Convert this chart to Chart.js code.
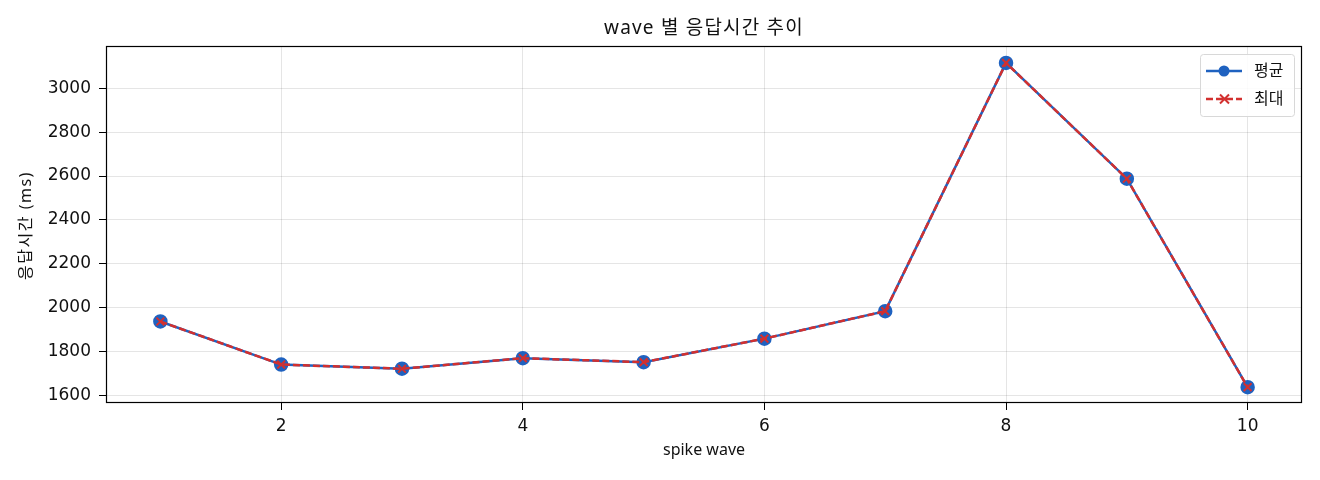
<!DOCTYPE html>
<html>
<head>
<meta charset="utf-8">
<script src="https://cdn.jsdelivr.net/npm/chart.js@4/dist/chart.umd.min.js"></script>
<style>
  html, body { margin: 0; padding: 0; background: #fff; }
  #wrap { width: 1320px; height: 480px; }
</style>
</head>
<body>
<div id="wrap"><canvas id="chart"></canvas></div>
<script>
const waves = [1, 2, 3, 4, 5, 6, 7, 8, 9, 10];
const avgMs = [1938, 1742, 1723, 1771, 1753, 1860, 1985, 3115, 2588, 1639];
const maxMs = [1938, 1742, 1723, 1771, 1753, 1860, 1985, 3115, 2588, 1639];
const xTicks = [2, 4, 6, 8, 10];
const yTicks = [1600, 1800, 2000, 2200, 2400, 2600, 2800, 3000];

const FONT = '"Noto Sans", "Noto Sans CJK KR", sans-serif';
const NUM_FONT = '"DejaVu Sans", sans-serif';
const BLUE = '#1f62c0';
const RED = '#d2302f';

const toPoints = vals => waves.map((w, i) => ({ x: w, y: vals[i] }));

// frame, title, y label and legend like the original
const extras = {
    id: 'extras',
    afterDatasetsDraw(chart) {
        const { ctx, chartArea: a } = chart;
        ctx.save();
        ctx.strokeStyle = '#000';
        ctx.lineWidth = 1.2;
        ctx.strokeRect(a.left + 0.5, a.top + 0.5, a.right - a.left - 1, a.bottom - a.top - 1);

        ctx.fillStyle = '#111';
        ctx.textAlign = 'center';
        ctx.textBaseline = 'middle';
        ctx.font = '19px ' + FONT;
        ctx.letterSpacing = '1.2px';
        ctx.fillText('wave 별 응답시간 추이', (a.left + a.right) / 2, 29);

        ctx.save();
        ctx.translate(26.5, (a.top + a.bottom) / 2 + 1);
        ctx.rotate(-Math.PI / 2);
        ctx.font = '16px ' + FONT;
        ctx.letterSpacing = '1.5px';
        ctx.fillText('응답시간 (ms)', 0, 0);
        ctx.restore();
        ctx.letterSpacing = '0px';

        // legend box
        const bx = 1200, by = 54, bw = 94, bh = 62;
        ctx.fillStyle = 'rgba(255,255,255,0.85)';
        ctx.strokeStyle = '#d8d8d8';
        ctx.lineWidth = 1;
        ctx.beginPath();
        ctx.roundRect(bx + 0.5, by + 0.5, bw, bh, 3);
        ctx.fill();
        ctx.stroke();

        chart.data.datasets.forEach((ds, i) => {
            const y = by + 17 + i * 28;
            ctx.strokeStyle = ds.borderColor;
            ctx.lineWidth = 2.4;
            ctx.setLineDash(ds.borderDash || []);
            ctx.beginPath();
            ctx.moveTo(bx + 6, y);
            ctx.lineTo(bx + 42, y);
            ctx.stroke();
            ctx.setLineDash([]);
            if (ds.pointStyle === 'circle') {
                ctx.fillStyle = ds.pointBackgroundColor;
                ctx.beginPath();
                ctx.arc(bx + 24, y, 5.5, 0, Math.PI * 2);
                ctx.fill();
            } else {
                ctx.lineWidth = 2;
                ctx.beginPath();
                ctx.moveTo(bx + 20, y - 4.5); ctx.lineTo(bx + 29, y + 4.5);
                ctx.moveTo(bx + 29, y - 4.5); ctx.lineTo(bx + 20, y + 4.5);
                ctx.stroke();
            }
            ctx.fillStyle = '#111';
            ctx.font = '16px ' + FONT;
            ctx.textAlign = 'left';
            ctx.fillText(ds.label, bx + 54, y);
        });
        ctx.restore();
    }
};

new Chart(document.getElementById('chart'), {
    type: 'line',
    data: {
        datasets: [
            {
                label: '평균',
                data: toPoints(avgMs),
                order: 2,
                borderColor: BLUE,
                backgroundColor: BLUE,
                pointBackgroundColor: BLUE,
                pointBorderColor: BLUE,
                pointStyle: 'circle',
                pointRadius: 6,
                borderWidth: 2.5,
                tension: 0
            },
            {
                label: '최대',
                data: toPoints(maxMs),
                order: 1,
                borderColor: RED,
                backgroundColor: RED,
                pointBorderColor: RED,
                pointStyle: 'crossRot',
                pointRadius: 5.5,
                pointBorderWidth: 2,
                borderWidth: 2.5,
                borderDash: [7, 3],
                tension: 0
            }
        ]
    },
    options: {
        responsive: true,
        maintainAspectRatio: false,
        animation: false,
        layout: { padding: { top: 46, right: 18, left: 0, bottom: 0 } },
        plugins: {
            legend: { display: false },
            tooltip: { enabled: false }
        },
        scales: {
            x: {
                type: 'linear',
                min: 0.55,
                max: 10.45,
                afterFit: s => { s.height = 77; },
                afterBuildTicks: s => { s.ticks = xTicks.map(v => ({ value: v })); },
                grid: {
                    color: 'rgba(0,0,0,0.1)',
                    tickColor: '#000',
                    tickLength: 7
                },
                border: { display: false },
                ticks: {
                    color: '#111',
                    font: { family: NUM_FONT, size: 17 },
                    padding: 6,
                    maxRotation: 0,
                    callback: v => String(v)
                },
                title: {
                    display: true,
                    text: 'spike wave',
                    color: '#111',
                    font: { family: FONT, size: 16 },
                    padding: { top: 0, bottom: 20 }
                }
            },
            y: {
                min: 1567,
                max: 3192,
                afterFit: s => { s.width = 106; },
                afterBuildTicks: s => { s.ticks = yTicks.map(v => ({ value: v })); },
                grid: {
                    color: 'rgba(0,0,0,0.1)',
                    tickColor: '#000',
                    tickLength: 7
                },
                border: { display: false },
                ticks: {
                    color: '#111',
                    font: { family: NUM_FONT, size: 17 },
                    padding: 8,
                    callback: v => String(v)
                }
            }
        }
    },
    plugins: [extras]
});
</script>
</body>
</html>
